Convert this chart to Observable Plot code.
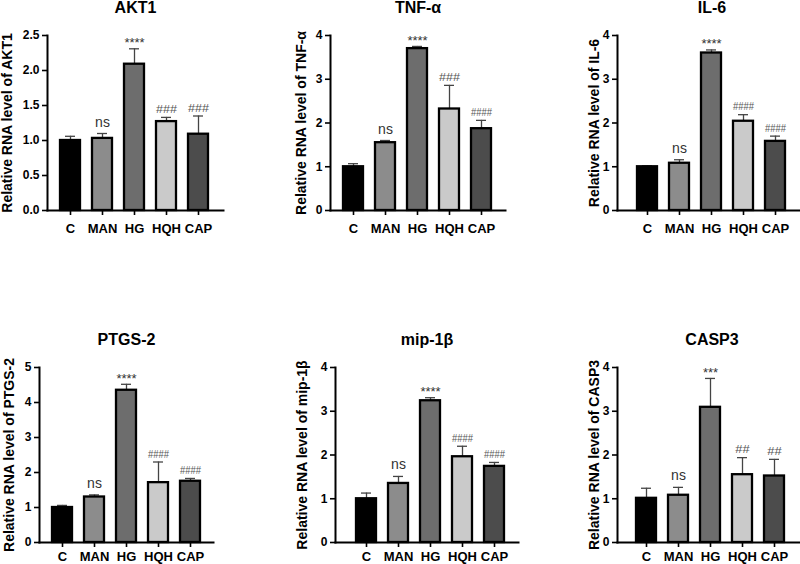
<!DOCTYPE html>
<html><head><meta charset="utf-8">
<script src="https://cdn.jsdelivr.net/npm/d3@7"></script>
<script src="https://cdn.jsdelivr.net/npm/@observablehq/plot@0.6"></script>
<style>
html,body{margin:0;padding:0;background:#fff;overflow:hidden;}
#root{position:relative;width:800px;height:564px;overflow:hidden;font-family:'Liberation Sans',Arial,sans-serif;}
.panel{position:absolute;}
.panel svg{max-width:none !important;}
</style></head><body><div id="root"></div>
<script>
// ---- data ----
const groups = ["C", "MAN", "HG", "HQH", "CAP"];
const barColors = ["#000000", "#8c8c8c", "#6d6d6d", "#cacaca", "#4c4c4c"];
const genes = ["AKT1", "TNF-α", "IL-6", "PTGS-2", "mip-1β", "CASP3"];

const akt1Mean = [1.00, 1.03, 2.09, 1.27, 1.09];
const akt1Err  = [0.06, 0.07, 0.22, 0.06, 0.26];
const akt1Sig  = ["", "ns", "****", "###", "###"];

const tnfMean = [1.00, 1.55, 3.70, 2.32, 1.87];
const tnfErr  = [0.07, 0.05, 0.05, 0.54, 0.19];
const tnfSig  = ["", "ns", "****", "###", "####"];

const il6Mean = [1.00, 1.08, 3.60, 2.04, 1.58];
const il6Err  = [0.02, 0.08, 0.07, 0.15, 0.12];
const il6Sig  = ["", "ns", "****", "####", "####"];

const ptgsMean = [1.00, 1.30, 4.35, 1.71, 1.75];
const ptgsErr  = [0.06, 0.06, 0.17, 0.59, 0.08];
const ptgsSig  = ["", "ns", "****", "####", "####"];

const mipMean = [1.00, 1.35, 3.24, 1.96, 1.74];
const mipErr  = [0.13, 0.16, 0.07, 0.24, 0.09];
const mipSig  = ["", "ns", "****", "####", "####"];

const caspMean = [1.01, 1.08, 3.09, 1.55, 1.52];
const caspErr  = [0.23, 0.18, 0.66, 0.39, 0.38];
const caspSig  = ["", "ns", "***", "##", "##"];

const yMax   = [2.5, 4, 4, 5, 4, 4];
const yStep  = [0.5, 1, 1, 1, 1, 1];
const yFmt   = [".1f", "d", "d", "d", "d", "d"];

const means = [akt1Mean, tnfMean, il6Mean, ptgsMean, mipMean, caspMean];
const errs  = [akt1Err, tnfErr, il6Err, ptgsErr, mipErr, caspErr];
const sigs  = [akt1Sig, tnfSig, il6Sig, ptgsSig, mipSig, caspSig];

// ---- layout (page pixels) ----
const layout = [
  {L:0,   T:0,   W:266, H:240, fl:47,  fr:223, ft:35,  fb:210, b0:58,  b1:210, ylDx:-40,   xPad:8},
  {L:266, T:0,   W:267, H:240, fl:330, fr:505, ft:35,  fb:210, b0:341, b1:493, ylDx:-28.5, xPad:8},
  {L:533, T:0,   W:273, H:240, fl:617, fr:806, ft:35,  fb:210, b0:635, b1:788, ylDx:-23,   xPad:8},
  {L:0,   T:310, W:266, H:254, fl:39,  fr:213, ft:367, fb:542, b0:50,  b1:202, ylDx:-30,   xPad:4},
  {L:266, T:310, W:267, H:254, fl:335, fr:518, ft:367, fb:542, b0:354, b1:507, ylDx:-33,   xPad:4},
  {L:533, T:310, W:273, H:254, fl:617, fr:806, ft:367, fb:542, b0:634, b1:787, ylDx:-23,   xPad:4}
];

const root = document.getElementById("root");
const FONT = "'Liberation Sans', Arial, sans-serif";

genes.forEach((gene, i) => {
  const lo = layout[i];
  const data = groups.map((g, j) => ({
    group: g, mean: means[i][j], top: means[i][j] + errs[i][j], sig: sigs[i][j]
  }));
  const ticks = d3.range(0, yMax[i] + 1e-9, yStep[i]);
  const svg = Plot.plot({
    width: lo.W, height: lo.H,
    marginLeft: lo.fl - lo.L, marginRight: lo.L + lo.W - lo.fr,
    marginTop: lo.ft - lo.T, marginBottom: lo.T + lo.H - lo.fb,
    style: {fontFamily: FONT, overflow: "visible", background: "transparent", color: "#000", maxWidth: "none"},
    x: {domain: groups, range: [lo.b0 - lo.L + 1, lo.b1 - lo.L - 1], paddingInner: 0.37, paddingOuter: 0, label: null},
    y: {domain: [0, yMax[i]], label: null},
    color: {domain: groups, range: barColors},
    marks: [
      Plot.ruleX(data, {x: "group", y1: "mean", y2: "top", stroke: "#444", strokeWidth: 1.3}),
      Plot.tickY(data, {x: "group", y: "top", stroke: "#444", strokeWidth: 1.3, insetLeft: 5, insetRight: 5}),
      Plot.barY(data, {x: "group", y: "mean", fill: "group", stroke: "#000", strokeWidth: 2.3}),
      Plot.frame({anchor: "left", stroke: "#000", strokeWidth: 2}),
      Plot.frame({anchor: "bottom", stroke: "#000", strokeWidth: 2}),
      Plot.axisY({ticks, tickFormat: d3.format(yFmt[i]), tickSize: 5, tickPadding: 3, strokeWidth: 1.6,
                  fontSize: 12, fontWeight: "bold", label: null}),
      Plot.axisX({tickSize: 5, tickPadding: lo.xPad, strokeWidth: 1.6, fontSize: 13, fontWeight: "bold", label: null}),
      Plot.text(data, {filter: d => d.sig === "ns", x: "group", y: "top", text: "sig",
                       lineAnchor: "bottom", dy: -7, fontSize: 14, fill: "#333"}),
      Plot.text(data, {filter: d => /^\*+$/.test(d.sig), x: "group", y: "top", text: "sig",
                       lineAnchor: "bottom", dy: -1.5, fontSize: 13, fill: "#333"}),
      Plot.text(data, {filter: d => /^#+$/.test(d.sig), x: "group", y: "top", text: "sig",
                       lineAnchor: "bottom", dy: -4.5, fontSize: 10, fill: "#555"}),
      Plot.text([gene], {text: d => d, frameAnchor: "top", dy: -28, lineAnchor: "middle",
                         fontSize: 16, fontWeight: "bold", fill: "#000"}),
      Plot.text(["Relative RNA level of " + gene], {text: d => d, frameAnchor: "left", dx: lo.ylDx,
                         rotate: -90, textAnchor: "middle", lineAnchor: "middle",
                         fontSize: 14, fontWeight: "bold", fill: "#000"})
    ]
  });
  svg.style.maxWidth = "none";
  // condense the '#' significance marks like the original
  svg.querySelectorAll("text").forEach(t => {
    const s = t.textContent.trim();
    if (/^#+$/.test(s)) {
      t.setAttribute("textLength", Math.min(21, s.length * 7.2));
      t.setAttribute("lengthAdjust", "spacingAndGlyphs");
    }
  });
  const div = document.createElement("div");
  div.className = "panel";
  div.style.left = lo.L + "px";
  div.style.top = lo.T + "px";
  div.style.width = lo.W + "px";
  div.style.height = lo.H + "px";
  div.appendChild(svg);
  root.appendChild(div);
});
</script>
</body></html>
